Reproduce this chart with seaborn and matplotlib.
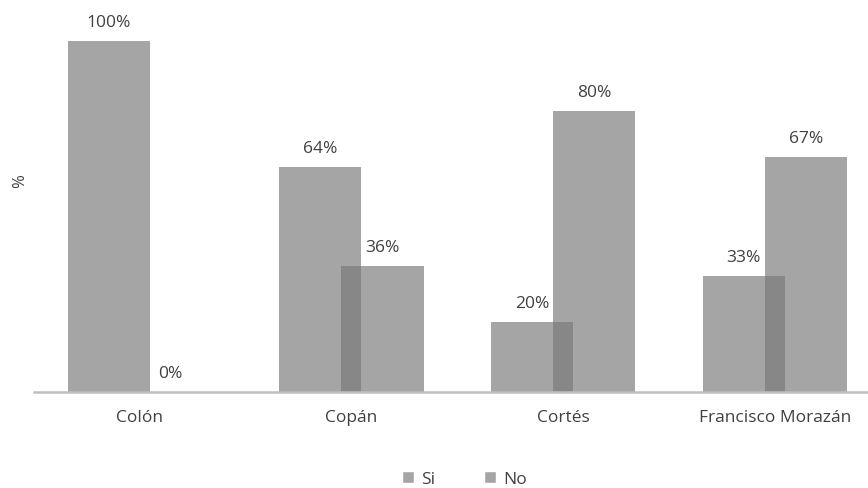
import matplotlib
matplotlib.use("Agg")
import matplotlib.pyplot as plt
from matplotlib.patches import Patch
import seaborn as sns
import pandas as pd

departamentos = ["Colón", "Copán", "Cortés", "Francisco Morazán"]
si = [100, 64, 20, 33]
no = [0, 36, 80, 67]

df = pd.DataFrame({
    "Departamento": departamentos * 2,
    "pct": si + no,
    "Respuesta": ["Si"] * 4 + ["No"] * 4,
})

sns.set_style("white")
plt.rcParams["font.family"] = ["Open Sans", "DejaVu Sans"]

txt = "#404040"
fig = plt.figure(figsize=(8.68, 4.89), dpi=100)
ax = fig.add_axes([0.039, 0.196, 0.961, 0.79])

sns.barplot(data=df, x="Departamento", y="pct", hue="Respuesta",
            palette={"Si": "#787878", "No": "#787878"}, alpha=0.667,
            width=0.776, dodge=True, legend=False, ax=ax,
            saturation=1, err_kws={"linewidth": 0})

# pull the two bars of each group together so they overlap
for cont, shift in zip(ax.containers, [0.0475, -0.0475]):
    for p in cont:
        p.set_x(p.get_x() + shift)
        p.set_linewidth(0)
    ax.bar_label(cont, labels=[f"{int(v)}%" for v in cont.datavalues],
                 padding=8, fontsize=12.5, color=txt)

ax.set_xlim(-0.5, 3.44)
ax.set_ylim(0, 110)
ax.set_xlabel("")
ax.set_ylabel("%", fontsize=12, color=txt)
ax.yaxis.set_label_coords(-0.007, 0.55)
ax.set_yticks([])
ax.tick_params(axis="x", length=0, pad=12, labelsize=12.5, labelcolor=txt)
for s in ["top", "right", "left"]:
    ax.spines[s].set_visible(False)
ax.spines["bottom"].set_color("#bfbfbf")
ax.spines["bottom"].set_linewidth(1.8)

handles = [Patch(facecolor="#a5a5a5", label="Si"), Patch(facecolor="#a5a5a5", label="No")]
fig.legend(handles=handles, loc="lower center", bbox_to_anchor=(0.535, -0.03), ncol=2,
           frameon=False, handlelength=0.7, handleheight=0.7, handletextpad=0.4,
           columnspacing=2.8, fontsize=12.5, labelcolor=txt)

fig.savefig("out.png", dpi=100)
